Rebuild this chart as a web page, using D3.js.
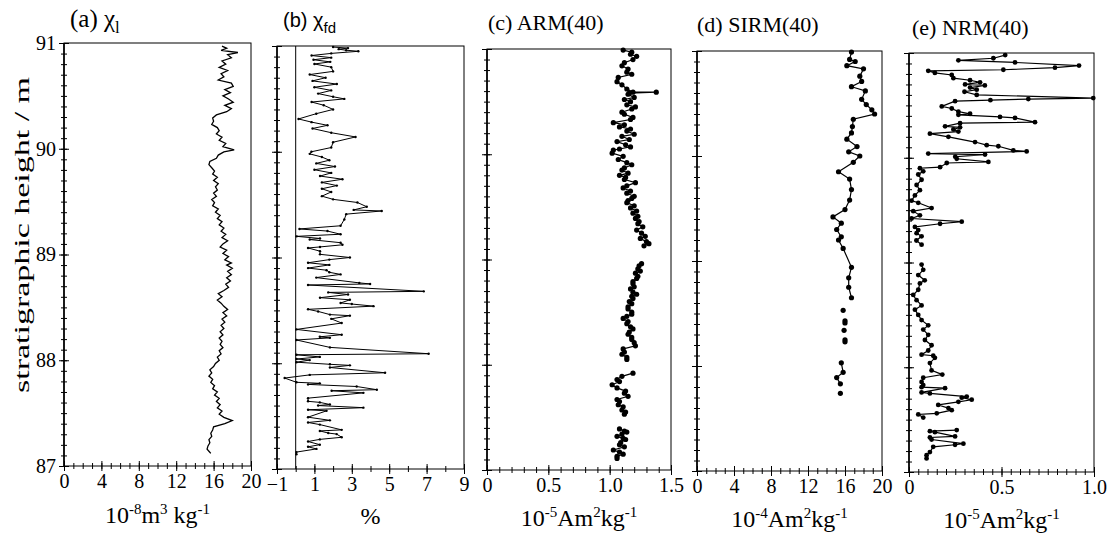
<html>
<head>
    <title>Magnetic parameters vs stratigraphic height</title>
    <script src="https://d3js.org/d3.v7.min.js"></script>
    <style>
        body { margin: 0; background: #fff; }
        text { font-family: "Liberation Serif", "Times New Roman", serif; fill: #000; }
        .box { fill: none; stroke: #000; stroke-width: 1px; }
        .series { fill: none; stroke: #000; }
        .axis path { display: none; }
        .axis line { stroke: #000; stroke-width: 1px; }
        .axis text { font-size: 20px; font-family: "Liberation Serif", serif; }
        .title { font-size: 22px; }
        .unit { font-size: 24px; }
    </style>
</head>
<body>
<svg id="chart" width="1108" height="535"></svg>
<script>
// stratigraphic height (m)
const heightTicks = [87, 88, 89, 90, 91];

// (a) chi_l, 10^-8 m3/kg  [height, value]
const chiLData = [[90.97,16.9],[90.95,17.4],[90.93,16.8],[90.91,18.6],[90.89,17.5],[90.86,17.9],[90.83,16.9],[90.80,17.3],[90.77,16.6],[90.74,17.5],[90.71,16.8],[90.68,17.1],[90.65,16.5],[90.62,17.9],[90.59,18.1],[90.56,17.2],[90.53,17.8],[90.50,17.0],[90.47,17.6],[90.44,18.1],[90.41,17.2],[90.38,17.9],[90.35,17.4],[90.32,16.3],[90.29,15.9],[90.26,16.0],[90.23,15.8],[90.20,16.4],[90.17,16.6],[90.14,16.3],[90.11,16.9],[90.08,16.6],[90.05,17.3],[90.02,17.0],[89.99,18.2],[89.97,17.1],[89.94,16.5],[89.91,16.3],[89.88,15.6],[89.85,15.5],[89.82,15.8],[89.79,16.1],[89.76,15.9],[89.73,16.4],[89.70,16.0],[89.67,16.5],[89.64,16.2],[89.61,16.4],[89.58,16.0],[89.55,16.3],[89.52,15.8],[89.49,16.1],[89.46,15.9],[89.43,16.5],[89.40,16.2],[89.37,16.7],[89.34,16.4],[89.31,16.9],[89.28,16.6],[89.25,17.1],[89.22,16.8],[89.19,17.3],[89.16,16.9],[89.13,17.5],[89.10,17.0],[89.07,16.7],[89.04,17.4],[89.01,17.0],[88.98,17.6],[88.95,17.2],[88.92,17.9],[88.90,17.4],[88.87,18.0],[88.84,17.5],[88.81,17.9],[88.78,17.4],[88.75,17.8],[88.72,17.3],[88.69,17.6],[88.66,17.1],[88.63,16.5],[88.60,16.9],[88.57,16.4],[88.54,16.8],[88.51,17.1],[88.48,17.5],[88.45,17.0],[88.42,17.4],[88.39,16.9],[88.36,17.2],[88.33,16.8],[88.30,17.1],[88.27,16.7],[88.24,17.0],[88.21,16.6],[88.18,16.9],[88.15,16.7],[88.12,17.0],[88.09,16.6],[88.06,16.8],[88.03,16.4],[88.00,16.6],[87.97,16.2],[87.94,16.0],[87.91,15.6],[87.88,15.8],[87.85,15.5],[87.82,15.9],[87.79,15.7],[87.76,16.1],[87.73,15.9],[87.70,16.4],[87.67,16.1],[87.64,16.6],[87.61,16.3],[87.58,16.7],[87.55,16.4],[87.52,16.9],[87.49,16.6],[87.46,17.1],[87.43,18.0],[87.40,17.2],[87.37,16.0],[87.34,15.9],[87.31,15.7],[87.28,15.8],[87.25,15.5],[87.22,15.6],[87.19,15.4],[87.16,15.3],[87.14,15.5],[87.12,15.7]];

// (b) chi_fd, %
const chiFdData = [[90.99,2.0],[90.98,2.8],[90.97,2.3],[90.96,2.7],[90.95,3.35],[90.93,1.9],[90.91,0.85],[90.89,1.9],[90.87,0.95],[90.85,1.85],[90.83,1.0],[90.80,1.9],[90.76,2.0],[90.73,0.75],[90.70,1.6],[90.67,0.9],[90.64,2.2],[90.61,1.0],[90.58,1.9],[90.55,1.2],[90.52,2.0],[90.50,2.6],[90.47,0.85],[90.44,1.5],[90.40,2.0],[90.36,1.1],[90.31,0.15],[90.28,0.85],[90.25,1.7],[90.22,0.9],[90.18,1.9],[90.14,3.2],[90.09,2.0],[90.04,1.9],[90.00,0.84],[89.98,0.75],[89.95,1.4],[89.92,1.8],[89.89,1.1],[89.86,2.1],[89.83,1.0],[89.80,1.9],[89.77,1.3],[89.74,2.5],[89.71,1.4],[89.68,2.2],[89.65,1.4],[89.62,1.9],[89.58,1.4],[89.55,2.0],[89.52,3.3],[89.48,3.8],[89.45,3.1],[89.44,4.6],[89.41,2.7],[89.36,2.6],[89.30,2.4],[89.27,0.2],[89.25,1.7],[89.22,2.4],[89.20,0.05],[89.18,1.3],[89.17,0.75],[89.14,2.4],[89.12,2.5],[89.10,1.3],[89.09,0.66],[89.06,1.3],[89.03,1.3],[89.00,2.9],[88.98,1.8],[88.95,0.66],[88.93,1.8],[88.90,0.66],[88.88,1.65],[88.86,1.8],[88.84,2.4],[88.81,1.1],[88.76,3.4],[88.75,3.98],[88.74,0.66],[88.68,6.85],[88.67,1.74],[88.65,2.8],[88.62,1.3],[88.60,2.9],[88.57,2.4],[88.56,3.0],[88.54,4.16],[88.51,0.66],[88.49,1.2],[88.46,1.83],[88.45,2.9],[88.42,1.9],[88.38,2.46],[88.32,0.04],[88.27,2.46],[88.25,1.29],[88.24,1.83],[88.22,0.04],[88.15,1.83],[88.09,7.11],[88.08,0.04],[88.06,1.29],[88.04,0.04],[88.03,0.75],[88.01,0.04],[87.99,1.83],[87.98,2.9],[87.96,1.83],[87.91,4.78],[87.89,0.75],[87.86,-0.59],[87.82,0.04],[87.81,1.29],[87.80,0.66],[87.78,3.26],[87.75,4.34],[87.74,1.92],[87.72,3.62],[87.67,0.66],[87.64,0.66],[87.63,1.29],[87.61,1.83],[87.60,1.2],[87.58,3.62],[87.56,0.66],[87.55,1.65],[87.49,0.66],[87.46,1.83],[87.44,0.66],[87.42,1.29],[87.37,2.46],[87.36,1.29],[87.34,1.74],[87.33,2.19],[87.30,2.46],[87.28,1.29],[87.26,0.66],[87.23,1.29],[87.21,0.66],[87.19,1.11],[87.16,0.04],[87.14,0.04]];

// (c) ARM(40), 10^-5 Am2/kg  (null = gap in the record)
const armData = [[90.99,1.11],[90.97,1.18],[90.95,1.17],[90.93,1.22],[90.90,1.19],[90.87,1.12],[90.84,1.10],[90.81,1.15],[90.78,1.14],[90.76,1.18],[90.73,1.07],[90.69,1.06],[90.66,1.10],[90.62,1.14],[90.59,1.19],[90.59,1.38],[90.58,1.16],[90.57,1.15],[90.54,1.20],[90.52,1.12],[90.50,1.17],[90.47,1.14],[90.45,1.21],[90.43,1.18],[90.40,1.10],[90.38,1.12],[90.35,1.19],[90.33,1.17],[90.30,1.03],[90.28,1.12],[90.26,1.08],[90.24,1.17],[90.22,1.14],[90.19,1.20],[90.17,1.10],[90.14,1.16],[90.12,1.06],[90.09,1.13],[90.07,1.17],[90.05,1.08],[90.04,1.03],[90.01,1.02],[89.98,1.11],[89.95,1.07],[89.92,1.14],[89.90,1.18],[89.87,1.12],[89.85,1.10],[89.82,1.15],[89.80,1.08],[89.78,1.13],[89.76,1.12],[89.73,1.21],[89.70,1.14],[89.68,1.11],[89.65,1.17],[89.63,1.14],[89.60,1.20],[89.58,1.18],[89.56,1.15],[89.54,1.14],[89.51,1.20],[89.49,1.17],[89.46,1.22],[89.44,1.19],[89.41,1.23],[89.39,1.21],[89.36,1.24],[89.34,1.23],[89.31,1.27],[89.28,1.22],[89.25,1.26],[89.22,1.29],[89.20,1.25],[89.17,1.30],[89.15,1.32],[89.13,1.28], null,
    [88.96,1.26],[88.94,1.24],[88.91,1.23],[88.89,1.25],[88.87,1.21],[88.84,1.23],[88.82,1.22],[88.79,1.19],[88.77,1.19],[88.74,1.20],[88.72,1.17],[88.69,1.19],[88.67,1.22],[88.65,1.18],[88.63,1.19],[88.60,1.16],[88.58,1.18],[88.55,1.15],[88.53,1.15],[88.50,1.18],[88.48,1.18],[88.46,1.14],[88.44,1.11],[88.41,1.15],[88.39,1.14],[88.36,1.17],[88.34,1.19],[88.31,1.16],[88.29,1.15],[88.26,1.18],[88.24,1.18],[88.21,1.20],[88.18,1.21],[88.15,1.11],[88.12,1.12],[88.10,1.10],[88.07,1.14],[88.05,1.14], null,
    [87.92,1.19],[87.89,1.10],[87.86,1.06],[87.84,1.08],[87.81,1.02],[87.78,1.06],[87.75,1.13],[87.73,1.12],[87.70,1.15],[87.67,1.06],[87.65,1.08],[87.62,1.07],[87.60,1.11],[87.57,1.10],[87.55,1.13],[87.53,1.12], null,
    [87.39,1.08],[87.37,1.12],[87.36,1.14],[87.34,1.10],[87.32,1.06],[87.30,1.11],[87.29,1.13],[87.26,1.09],[87.24,1.08],[87.22,1.12],[87.19,1.03],[87.17,1.08],[87.15,1.11],[87.13,1.06],[87.11,1.06]];

// (d) SIRM(40), 10^-4 Am2/kg
const sirmData = [[90.99,16.7],[90.92,16.5],[90.90,17.1],[90.86,16.2],[90.83,18.0],[90.76,17.6],[90.71,17.8],[90.66,16.7],[90.62,18.2],[90.54,17.8],[90.49,18.3],[90.44,18.9],[90.40,19.2],[90.35,16.9],[90.28,16.8],[90.22,16.7],[90.16,16.2],[90.09,17.3],[90.04,16.4],[90.00,17.6],[89.94,16.9],[89.85,15.3],[89.78,16.5],[89.68,16.7],[89.58,16.5],[89.49,16.0],[89.42,14.7],[89.36,15.6],[89.30,15.1],[89.23,15.6],[89.20,15.3],[89.12,15.8],[88.94,16.7],[88.84,16.4],[88.75,16.4],[88.65,16.7], null,
    [88.53,15.8], null, [88.43,16.0],[88.41,16.0], null, [88.34,15.9], null, [88.25,16.0],[88.23,16.0], null,
    [88.03,15.6],[87.94,15.8],[87.89,15.1],[87.83,15.5], null, [87.74,15.5]];

// (e) NRM(40), 10^-5 Am2/kg
const nrmData = [[90.98,0.52],[90.95,0.456],[90.93,0.267],[90.91,0.573],[90.88,0.919],[90.86,0.789],[90.84,0.51],[90.83,0.104],[90.81,0.14],[90.79,0.231],[90.76,0.24],[90.74,0.33],[90.72,0.384],[90.70,0.303],[90.69,0.41],[90.67,0.33],[90.65,0.366],[90.63,0.30],[90.60,0.366],[90.57,0.996],[90.56,0.645],[90.55,0.44],[90.54,0.249],[90.49,0.177],[90.47,0.231],[90.44,0.267],[90.42,0.33],[90.41,0.267],[90.39,0.492],[90.38,0.573],[90.34,0.681],[90.33,0.276],[90.30,0.195],[90.29,0.276],[90.27,0.24],[90.25,0.267],[90.23,0.113],[90.20,0.213],[90.15,0.357],[90.12,0.42],[90.11,0.483],[90.07,0.564],[90.06,0.636],[90.04,0.104],[90.03,0.411],[90.01,0.25],[89.99,0.258],[89.96,0.429],[89.95,0.204],[89.91,0.168],[89.90,0.059],[89.87,0.077],[89.84,0.05],[89.79,0.068],[89.74,0.041],[89.69,0.059],[89.64,0.032],[89.59,0.014],[89.57,0.05],[89.52,0.122],[89.49,0.023],[89.45,0.059],[89.42,0.014],[89.39,0.285],[89.37,0.168],[89.34,0.032],[89.31,0.05],[89.28,0.041],[89.25,0.068],[89.21,0.04],[89.17,0.068], null,
    [88.98,0.068],[88.93,0.077],[88.88,0.05],[88.83,0.085],[88.80,0.059],[88.74,0.05],[88.69,0.023],[88.64,0.041],[88.59,0.068],[88.55,0.032],[88.50,0.05],[88.45,0.068],[88.40,0.104],[88.36,0.077],[88.31,0.104],[88.26,0.086],[88.21,0.122],[88.16,0.104],[88.12,0.068],[88.11,0.131],[88.09,0.14],[88.04,0.113],[87.97,0.122],[87.93,0.18],[87.90,0.077],[87.86,0.068],[87.83,0.077],[87.81,0.068],[87.80,0.195],[87.76,0.068],[87.75,0.113],[87.72,0.312],[87.71,0.285],[87.69,0.339],[87.67,0.267],[87.64,0.158],[87.61,0.213],[87.59,0.231],[87.56,0.15],[87.55,0.05],[87.52,0.077], null,
    [87.40,0.258],[87.39,0.113],[87.38,0.14],[87.34,0.249],[87.33,0.113],[87.31,0.122],[87.27,0.294],[87.26,0.249],[87.24,0.131],[87.19,0.113],[87.16,0.095],[87.13,0.095]];

// x-axis tick labels for each panel
const chiLTicks = [0, 4, 8, 12, 16, 20];
const chiFdTicks = [-1, 1, 3, 5, 7, 9];
const armTicks = [0, 0.5, 1.0, 1.5];
const sirmTicks = [0, 4, 8, 12, 16, 20];
const nrmTicks = [0, 0.5, 1.0];

const svg = d3.select("#chart");

// the scanned figure is slightly tilted, so every panel has its own frame
const panels = [
    { data: chiLData, domain: [0, 20], ticks: chiLTicks, minor: d3.range(0, 21), fmt: d3.format("d"),
      x0: 64, x1: 251, top: 43, bottom: 466, r: 0, lw: 1.3,
      title: [["(a) χ"], ["l", "sub"]], tx: 70, ty: 27, tsize: 25,
      unit: [["10"], ["-8", "sup"], ["m"], ["3", "sup"], [" kg"], ["-1", "sup"]], uy: 523 },
    { data: chiFdData, domain: [-1, 9], ticks: chiFdTicks, minor: d3.range(-1, 10), fmt: d3.format("d"),
      x0: 277, x1: 464, top: 46, bottom: 469, r: 1.2, lw: 1, zero: true,
      title: [["(b) χ"], ["fd", "sub"]], tx: 283, ty: 27, sans: true,
      unit: [["%"]], uy: 524 },
    { data: armData, domain: [0, 1.5], ticks: armTicks, minor: d3.range(0, 16).map(v => v / 10), fmt: d => d === 0 ? "0" : d3.format(".1f")(d),
      x0: 487, x1: 671, top: 49, bottom: 470, r: 2.6, lw: 1.2,
      title: [["(c) ARM(40)"]], tx: 488, ty: 30,
      unit: [["10"], ["-5", "sup"], ["Am"], ["2", "sup"], ["kg"], ["-1", "sup"]], uy: 526 },
    { data: sirmData, domain: [0, 20], ticks: sirmTicks, minor: d3.range(0, 21), fmt: d3.format("d"),
      x0: 697, x1: 882, top: 51, bottom: 471, r: 2.6, lw: 1.2,
      title: [["(d) SIRM(40)"]], tx: 697, ty: 32,
      unit: [["10"], ["-4", "sup"], ["Am"], ["2", "sup"], ["kg"], ["-1", "sup"]], uy: 527 },
    { data: nrmData, domain: [0, 1.0], ticks: nrmTicks, minor: d3.range(0, 21).map(v => v / 20), fmt: d => d === 0 ? "0" : d3.format(".1f")(d),
      x0: 909, x1: 1094, top: 53, bottom: 472, r: 2.4, lw: 1.2,
      title: [["(e) NRM(40)"]], tx: 912, ty: 35,
      unit: [["10"], ["-5", "sup"], ["Am"], ["2", "sup"], ["kg"], ["-1", "sup"]], uy: 528 }
];

const yMinor = d3.range(870, 911).map(v => v / 10);

function addParts(textSel, parts, small) {
    let shift = 0;
    parts.forEach(p => {
        let target = p[1] === "sup" ? -9 : (p[1] === "sub" ? 6 : 0);
        textSel.append("tspan")
            .attr("dy", target - shift)
            .attr("font-size", p[1] ? small : null)
            .text(p[0]);
        shift = target;
    });
}

panels.forEach((p, i) => {
    const x = d3.scaleLinear().domain(p.domain).range([p.x0, p.x1]);
    const y = d3.scaleLinear().domain([87, 91]).range([p.bottom, p.top]);
    const g = svg.append("g");

    g.append("rect").attr("class", "box")
        .attr("x", p.x0).attr("y", p.top)
        .attr("width", p.x1 - p.x0).attr("height", p.bottom - p.top);

    if (p.zero) {
        g.append("line")
            .attr("x1", x(0)).attr("x2", x(0))
            .attr("y1", p.top).attr("y2", p.bottom)
            .attr("stroke", "#000").attr("stroke-width", 1);
    }

    // left axis: small ticks every 0.1 m, larger ones every metre
    g.append("g").attr("class", "axis")
        .attr("transform", `translate(${p.x0},0)`)
        .call(d3.axisLeft(y).tickValues(yMinor).tickSize(3).tickSizeOuter(0).tickFormat(""))
        .selectAll(".tick line").attr("x1", 3);
    g.append("g").attr("class", "axis")
        .attr("transform", `translate(${p.x0},0)`)
        .call(d3.axisLeft(y).tickValues(heightTicks).tickSize(5).tickSizeOuter(0).tickPadding(3)
            .tickFormat(i === 0 ? d3.format("d") : ""))
        .selectAll(".tick line").attr("x1", 5);
    g.append("line")
        .attr("x1", p.x0).attr("x2", p.x0).attr("y1", p.top).attr("y2", p.bottom)
        .attr("stroke", "#000").attr("stroke-width", 1.6);

    // bottom axis
    g.append("g").attr("class", "axis")
        .attr("transform", `translate(0,${p.bottom})`)
        .call(d3.axisBottom(x).tickValues(p.minor).tickSize(3).tickSizeOuter(0).tickFormat(""))
        .selectAll(".tick line").attr("y1", -3);
    g.append("g").attr("class", "axis")
        .attr("transform", `translate(0,${p.bottom})`)
        .call(d3.axisBottom(x).tickValues(p.ticks).tickSize(5).tickSizeOuter(0).tickPadding(3).tickFormat(p.fmt))
        .selectAll(".tick line").attr("y1", -5);

    // series
    const line = d3.line()
        .defined(d => d !== null)
        .x(d => x(d[1]))
        .y(d => y(d[0]));
    g.append("path").datum(p.data)
        .attr("class", "series")
        .attr("stroke-width", p.lw)
        .attr("d", line);

    if (p.r > 0) {
        g.selectAll("circle.pt")
            .data(p.data.filter(d => d !== null))
            .join("circle")
            .attr("class", "pt")
            .attr("cx", d => x(d[1]))
            .attr("cy", d => y(d[0]))
            .attr("r", p.r)
            .attr("fill", "#000");
    }

    // panel title
    const t = svg.append("text").attr("class", "title")
        .attr("x", p.tx).attr("y", p.ty);
    if (p.tsize) t.style("font-size", p.tsize + "px");
    if (p.sans) t.style("font-family", "'Liberation Sans', 'DejaVu Sans', sans-serif").style("font-size", "20px");
    addParts(t, p.title, p.tsize ? 17 : 15);

    // unit label
    const u = svg.append("text").attr("class", "unit")
        .attr("x", (p.x0 + p.x1) / 2).attr("y", p.uy)
        .attr("text-anchor", "middle");
    addParts(u, p.unit, 15);
});

svg.append("text")
    .attr("transform", "translate(29,235) rotate(-90)")
    .attr("text-anchor", "middle")
    .attr("font-size", 20)
    .attr("textLength", 316)
    .attr("lengthAdjust", "spacingAndGlyphs")
    .text("stratigraphic height / m");
</script>
</body>
</html>
